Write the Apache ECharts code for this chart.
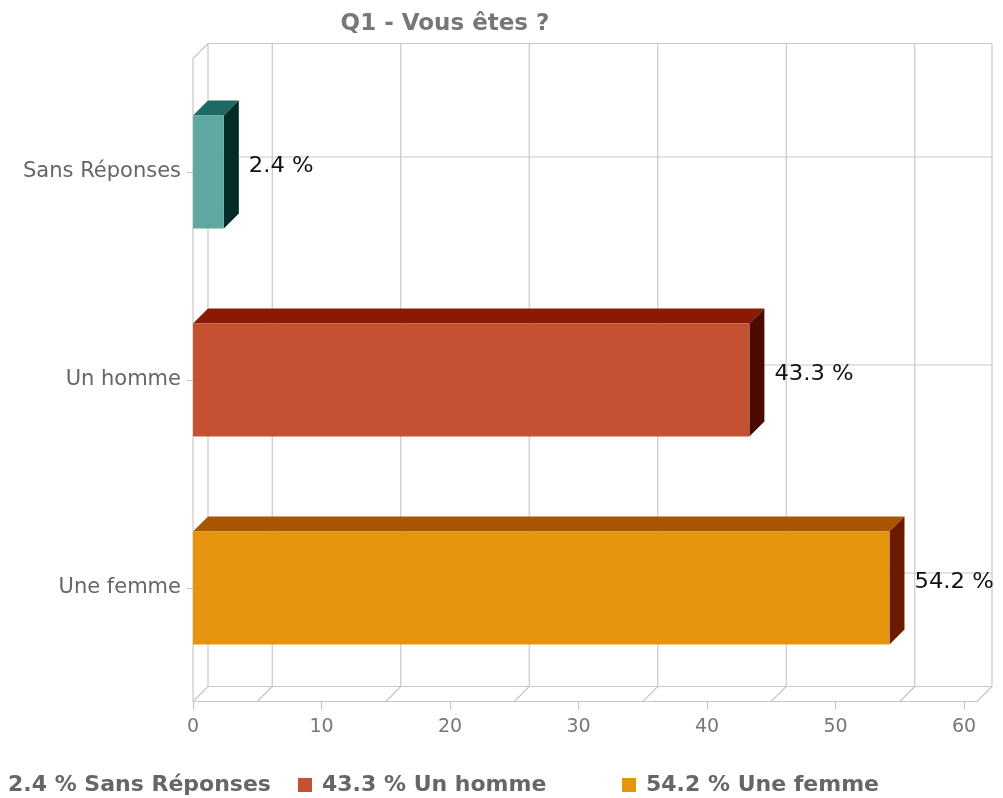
<!DOCTYPE html>
<html>
<head>
<meta charset="utf-8">
<script src="https://cdn.jsdelivr.net/npm/echarts@6/dist/echarts.min.js"></script>
<style>
html,body{margin:0;padding:0;background:#fff;}
#chart{width:1003px;height:798px;}
</style>
</head>
<body>
<div id="chart"></div>
<script>
// ---- data ----
const categories = ['Sans Réponses', 'Un homme', 'Une femme'];
const values = [2.4, 43.3, 54.2];
const xTicks = [0, 10, 20, 30, 40, 50, 60];
const gridLineValues = [5, 15, 25, 35, 45, 55];
const frontColors = ['#5ea8a0', '#c45232', '#e5950d'];
const topColors = ['#1d6a62', '#8a1a06', '#a85500'];
const sideColors = ['#032b28', '#4c0a03', '#6b1a00'];

// ---- style constants ----
const DX = 15, DY = -15;       // depth offset
const PAD = 9.5;                // plane padding around category bands
const EXT = 13;                 // plane extension beyond max
const BAR_H = 113;
const GRID_COLOR = '#c8c8c8';
const FONT = '"DejaVu Sans", Verdana, sans-serif';

const chart = echarts.init(document.getElementById('chart'));

function line(x1, y1, x2, y2) {
  return { type: 'line', shape: { x1, y1, x2, y2 }, style: { stroke: GRID_COLOR, lineWidth: 1.2 }, silent: true };
}

function renderFrame(params, api) {
  const cs = params.coordSys;
  const left = cs.x;
  const right = api.coord([xTicks[xTicks.length - 1], 0])[0] + EXT;
  const top = cs.y - PAD;
  const bottom = cs.y + cs.height + PAD;
  const children = [];
  // back wall border
  children.push(line(left + DX, top + DY, right + DX, top + DY));
  children.push(line(left + DX, top + DY, left + DX, bottom + DY));
  children.push(line(right + DX, top + DY, right + DX, bottom + DY));
  children.push(line(left + DX, bottom + DY, right + DX, bottom + DY));
  // back vertical gridlines
  gridLineValues.forEach(g => {
    const x = api.coord([g, 0])[0];
    children.push(line(x + DX, top + DY, x + DX, bottom + DY));
    children.push(line(x, bottom, x + DX, bottom + DY));
  });
  // back horizontal gridlines at category centres
  categories.forEach((c, i) => {
    const y = api.coord([0, i])[1];
    children.push(line(left + DX, y + DY, right + DX, y + DY));
  });
  // left wall
  children.push(line(left, top, left + DX, top + DY));
  children.push(line(left, top, left, bottom));
  // floor
  children.push(line(left, bottom, right, bottom));
  children.push(line(left, bottom, left + DX, bottom + DY));
  children.push(line(right, bottom, right + DX, bottom + DY));
  return { type: 'group', children };
}

function renderBar(idx) {
  return function (params, api) {
    const v = api.value(0);
    const p0 = api.coord([0, api.value(1)]);
    const p1 = api.coord([v, api.value(1)]);
    const x0 = p0[0], x1 = p1[0], yc = p0[1];
    const y0 = yc - BAR_H / 2, y1 = yc + BAR_H / 2;
    return {
      type: 'group',
      children: [
        { type: 'polygon', shape: { points: [[x0, y0], [x0 + DX, y0 + DY], [x1 + DX, y0 + DY], [x1, y0]] }, style: { fill: topColors[idx] } },
        { type: 'polygon', shape: { points: [[x1, y0], [x1 + DX, y0 + DY], [x1 + DX, y1 + DY], [x1, y1]] }, style: { fill: sideColors[idx] } },
        { type: 'rect', shape: { x: x0, y: y0, width: x1 - x0, height: y1 - y0 }, style: { fill: frontColors[idx] } },
        { type: 'text', x: x1 + DX + 10, y: yc - 5, scaleX: 1.08, style: { text: v + ' %', fill: '#111', font: '21px ' + FONT, verticalAlign: 'middle', align: 'left' } }
      ]
    };
  };
}

const series = [{
  type: 'custom', name: '__frame', z: 1, silent: true,
  renderItem: renderFrame, data: [[0, 0]], encode: { x: 0, y: 1 }
}];
categories.forEach((c, i) => {
  series.push({
    type: 'custom', name: c, z: 5,
    itemStyle: { color: frontColors[i] },
    renderItem: renderBar(i),
    data: [[values[i], i]], encode: { x: 0, y: 1 }
  });
});

const legendLefts = [-21, 293, 617];
const legends = categories.map((c, i) => ({
  data: [c], left: legendLefts[i], top: 769, orient: 'horizontal',
  itemWidth: 14, itemHeight: 14, icon: 'rect', selectedMode: false,
  formatter: name => values[categories.indexOf(name)] + ' % ' + name,
  textStyle: { color: '#666', fontWeight: 'bold', fontSize: 22, fontFamily: FONT, padding: [0, 0, 0, 5] }
}));

chart.setOption({
  animation: false,
  backgroundColor: '#fff',
  title: {
    text: 'Q1 - Vous êtes ?', left: 440, top: 8, textAlign: 'center',
    textStyle: { color: '#777', fontWeight: 'bold', fontSize: 23, fontFamily: FONT }
  },
  legend: legends,
  grid: { left: 193, top: 68, width: 771, height: 624, containLabel: false },
  xAxis: {
    type: 'value', min: 0, max: 60, interval: 10, offset: 9.5,
    axisLine: { show: false },
    axisTick: { show: true, length: 8, lineStyle: { color: GRID_COLOR, width: 1.2 } },
    splitLine: { show: false },
    axisLabel: { color: '#777', fontSize: 19, fontFamily: FONT, margin: 16 }
  },
  yAxis: {
    type: 'category', data: categories, inverse: true,
    axisLine: { show: false },
    axisTick: { show: true, alignWithLabel: true, length: 6, lineStyle: { color: GRID_COLOR, width: 1.2 } },
    splitLine: { show: false },
    axisLabel: { color: '#666', fontSize: 21, fontFamily: FONT, margin: 12 }
  },
  series
});
</script>
</body>
</html>
